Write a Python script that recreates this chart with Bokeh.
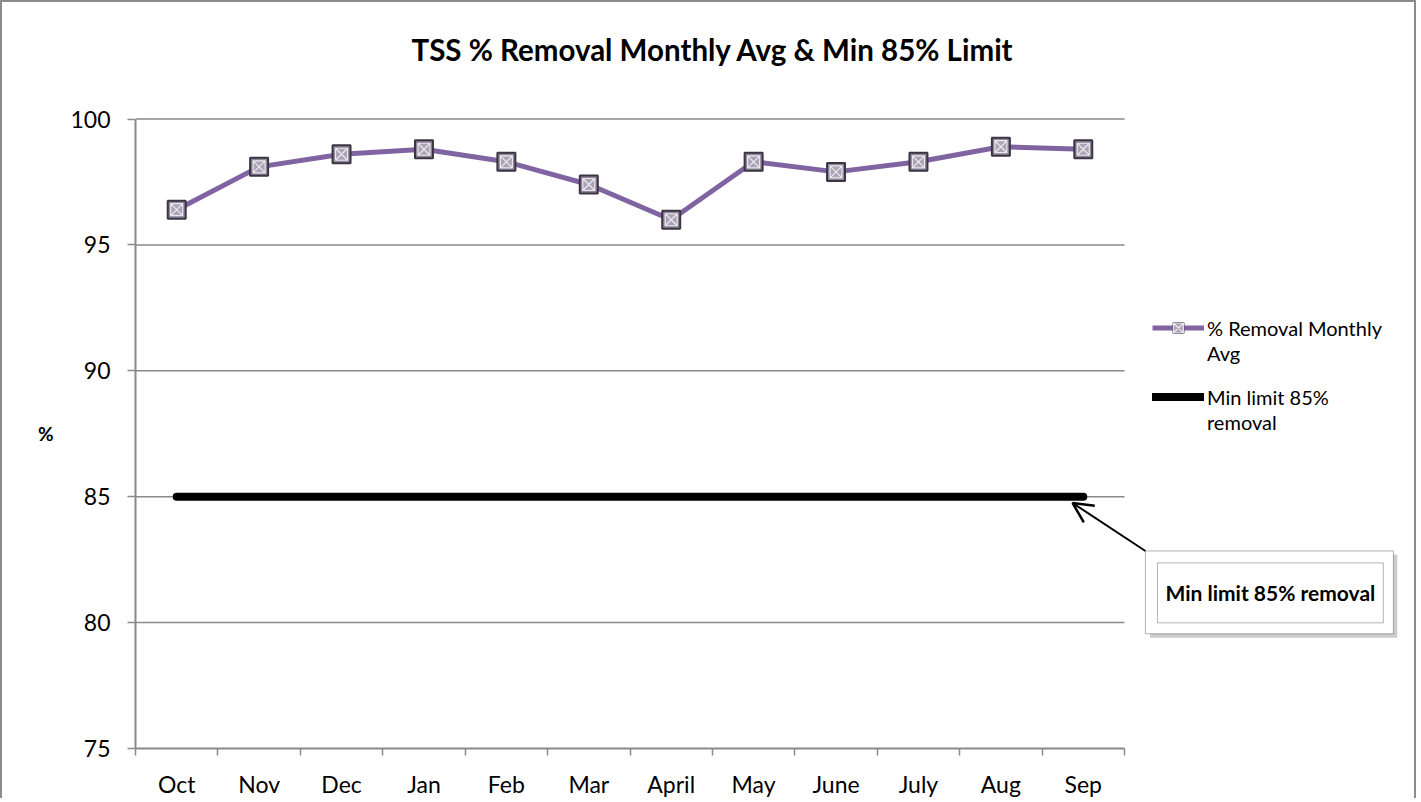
from bokeh.plotting import figure
from bokeh.models import (FixedTicker, Legend, LegendItem, Label, Arrow, OpenHead,
                          BoxAnnotation, Range1d, Title)
from bokeh.embed import file_html
from bokeh.resources import INLINE

months = ["Oct", "Nov", "Dec", "Jan", "Feb", "Mar", "April", "May", "June", "July", "Aug", "Sep"]
removal_avg = [96.4, 98.1, 98.6, 98.8, 98.3, 97.4, 96.0, 98.3, 97.9, 98.3, 98.9, 98.8]
min_limit = [85] * len(months)
y_ticks = [75, 80, 85, 90, 95, 100]
title_text = "TSS % Removal Monthly Avg & Min 85% Limit"

n = len(months)
x = [i + 0.5 for i in range(n)]
FONT = "Lato"
GRID = "#8a8a8a"

# layout (pixels)
W, H = 1416, 798
LEFT, TOP, BOTTOM = 133, 115, 51
PLOT_W = 989                        # width of the Excel plot area
FRAME_W = W - LEFT
y0, y1 = y_ticks[0], y_ticks[-1]
x_end = n * FRAME_W / PLOT_W

p = figure(width=W, height=H, output_backend="svg", toolbar_location=None, title=None,
           x_range=Range1d(0, x_end), y_range=Range1d(y0, y1 + 0.06),
           min_border_left=LEFT, min_border_right=0, min_border_top=TOP, min_border_bottom=BOTTOM)
p.styles = {"border-top": "2px solid #8c8c8c", "border-left": "2px solid #8c8c8c",
            "border-right": "2px solid #8c8c8c"}
p.outline_line_color = None
p.background_fill_color = "white"
p.border_fill_color = "white"

# spacer between frame and title, then the title itself
p.add_layout(Title(text=" ", text_font=FONT, text_font_size="29.5px", standoff=12), "above")
p.add_layout(Title(text=title_text, text_font=FONT, text_font_size="29.5px",
                   text_font_style="bold", text_color="black", align="left",
                   vertical_align="top", offset=276, standoff=0), "above")

# axes
p.xaxis.bounds = (0, n)
p.xaxis.ticker = FixedTicker(ticks=x, minor_ticks=list(range(n + 1)))
p.xaxis.major_label_overrides = {xx: m for xx, m in zip(x, months)}
p.xaxis.major_tick_out = 0
p.xaxis.major_tick_in = 0
p.xaxis.minor_tick_out = 7
p.xaxis.minor_tick_in = 0
p.xaxis.minor_tick_line_color = GRID
p.xaxis.minor_tick_line_width = 1.5
p.xaxis.axis_line_color = GRID
p.xaxis.axis_line_width = 2
p.xaxis.major_label_standoff = 14
p.xaxis.major_label_text_font = FONT
p.xaxis.major_label_text_font_size = "23px"
p.xaxis.major_label_text_color = "black"

p.yaxis.bounds = (y0, y1)
p.yaxis.ticker = FixedTicker(ticks=y_ticks, minor_ticks=[])
p.yaxis.major_tick_out = 8
p.yaxis.major_tick_in = 0
p.yaxis.major_tick_line_color = GRID
p.yaxis.major_tick_line_width = 1.5
p.yaxis.axis_line_color = GRID
p.yaxis.axis_line_width = 2
p.yaxis.major_label_standoff = 17
p.yaxis.major_label_text_font = FONT
p.yaxis.major_label_text_font_size = "23px"
p.yaxis.major_label_text_color = "black"
p.yaxis.axis_label = "%"
p.yaxis.axis_label_orientation = "horizontal"
p.yaxis.axis_label_standoff = 14
p.yaxis.axis_label_text_font = FONT
p.yaxis.axis_label_text_font_style = "bold"
p.yaxis.axis_label_text_font_size = "19px"
p.yaxis.axis_label_text_color = "black"

p.xgrid.grid_line_color = None
p.ygrid.grid_line_color = None
grid_y = y_ticks[1:]
p.segment(x0=[0] * len(grid_y), x1=[n] * len(grid_y), y0=grid_y, y1=grid_y,
          line_color=GRID, line_width=1.5)

# series
limit_line = p.line(x, min_limit, line_color="black", line_width=8, line_cap="round")
avg_line = p.line(x, removal_avg, line_color="#8064A2", line_width=5)
avg_outer = p.scatter(x, removal_avg, marker="square", size=18, fill_color="#8d8598",
                      line_color="#3b3442", line_width=2)
avg_inner = p.scatter(x, removal_avg, marker="square_x", size=12, fill_color="#aca4b6",
                      line_color="#ebe7ef", line_width=1.2)


def make_legend(items, loc):
    lg = Legend(items=items, location=loc)
    lg.border_line_color = None
    lg.background_fill_alpha = 0
    lg.padding = 0
    lg.margin = 0
    lg.glyph_width = 52
    lg.glyph_height = 25
    lg.label_height = 25
    lg.label_standoff = 3
    lg.spacing = 0
    lg.label_text_font = FONT
    lg.label_text_font_size = "20px"
    lg.label_text_color = "black"
    p.add_layout(lg, "center")


make_legend([LegendItem(label="% Removal Monthly", renderers=[avg_line, avg_outer, avg_inner]),
             LegendItem(label="Avg", renderers=[])], (1017, 383))
make_legend([LegendItem(label="Min limit 85%", renderers=[limit_line]),
             LegendItem(label="removal", renderers=[])], (1017, 314))

# callout
p.add_layout(BoxAnnotation(left=12.31, right=15.31, top=82.69, bottom=79.40,
                           fill_color="#9a9a9a", fill_alpha=0.5, line_color=None))
p.add_layout(BoxAnnotation(left=12.254, right=15.263, top=82.845, bottom=79.556,
                           fill_color="white", fill_alpha=1, line_color="black", line_width=1))
p.add_layout(BoxAnnotation(left=12.40, right=15.14, top=82.37, bottom=79.99,
                           fill_color="white", fill_alpha=1, line_color="black", line_width=1))
p.add_layout(Label(x=13.77, y=81.18, text="Min limit 85% removal", text_align="center",
                   text_baseline="middle", text_font=FONT, text_font_style="bold",
                   text_font_size="21px", text_color="black"))
p.add_layout(Arrow(x_start=12.254, y_start=82.845, x_end=11.37, y_end=84.75,
                   line_color="black", line_width=2,
                   end=OpenHead(size=20, line_color="black", line_width=2.5)))

open("out.html", "w").write(file_html(p, INLINE))
